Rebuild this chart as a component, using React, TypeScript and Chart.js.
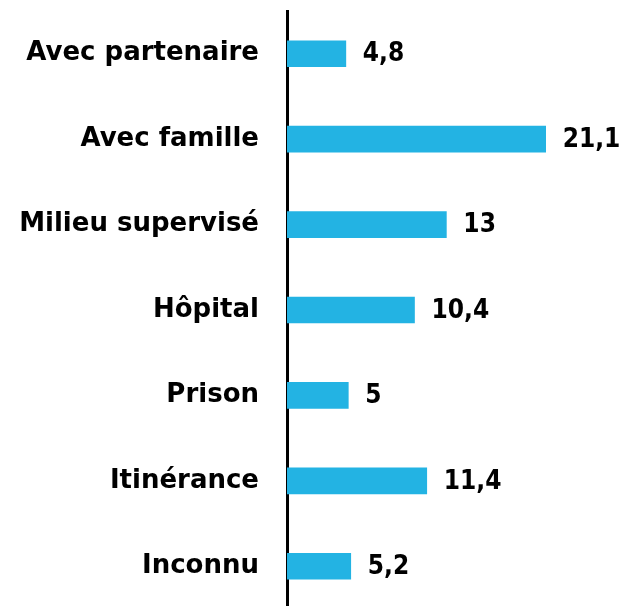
import React, { useEffect, useRef } from "react";
import { Chart, registerables } from "chart.js";

Chart.register(...registerables);

const categories = [
  "Avec partenaire",
  "Avec famille",
  "Milieu supervisé",
  "Hôpital",
  "Prison",
  "Itinérance",
  "Inconnu",
];
const values = [4.8, 21.1, 13, 10.4, 5, 11.4, 5.2];

const BAR_COLOR = "#23B3E3";
const FONT = "'DejaVu Sans', sans-serif";
const VALUE_FONT = "'DejaVu Sans Condensed', 'DejaVu Sans', sans-serif";
const FONT_SIZE = 26;

const valueLabels = {
  id: "valueLabels",
  afterDatasetsDraw(chart: any) {
    const ctx = chart.ctx;
    const meta = chart.getDatasetMeta(0);
    ctx.save();
    ctx.font = `bold ${FONT_SIZE}px ${VALUE_FONT}`;
    ctx.fillStyle = "#000";
    ctx.textAlign = "left";
    ctx.textBaseline = "middle";
    meta.data.forEach((bar: any, i: number) => {
      const txt = String(values[i]).replace(".", ",");
      ctx.fillText(txt, bar.x + 17, bar.y + 1);
    });
    ctx.restore();
  },
};

export default function App() {
  const ref = useRef<HTMLCanvasElement>(null);
  useEffect(() => {
    document.body.style.margin = "0";
    const chart = new Chart(ref.current!, {
      type: "bar",
      data: {
        labels: categories,
        datasets: [
          {
            data: values,
            backgroundColor: BAR_COLOR,
            barThickness: 26,
            borderWidth: 0,
          },
        ],
      },
      options: {
        indexAxis: "y",
        animation: false,
        responsive: false,
        maintainAspectRatio: false,
        layout: { padding: { top: 11, bottom: 6, left: 0, right: 3 } },
        plugins: { legend: { display: false }, tooltip: { enabled: false } },
        scales: {
          x: { display: false, min: 0, max: 27 },
          y: {
            afterFit(scale: any) {
              scale.width = 287;
            },
            grid: {
              display: true,
              drawOnChartArea: false,
              drawTicks: true,
              tickLength: 28,
              tickColor: "rgba(0,0,0,0)",
              color: "rgba(0,0,0,0)",
            },
            border: { display: true, color: "#000", width: 3 },
            ticks: {
              color: "#000",
              padding: 0,
              font: { family: FONT, size: FONT_SIZE, weight: "bold", lineHeight: 0.4 },
            },
          },
        },
      },
      plugins: [valueLabels],
    });
    return () => chart.destroy();
  }, []);
  return (
    <div style={{ width: 621, height: 606, overflow: "hidden" }}>
      <canvas ref={ref} width={621} height={615} style={{ display: "block" }} />
    </div>
  );
}
